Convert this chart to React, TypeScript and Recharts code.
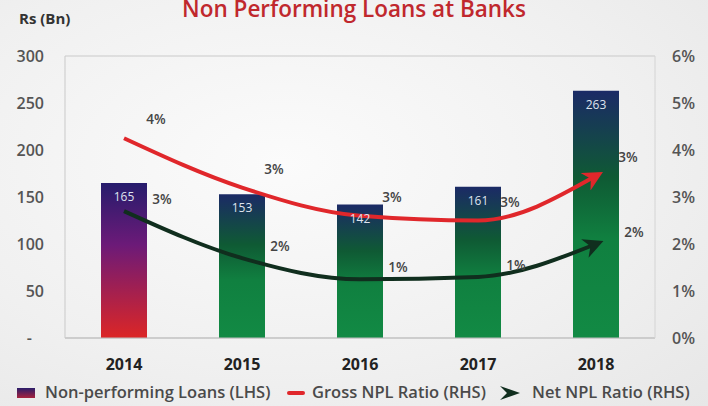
import React from "react";
import {
  ComposedChart,
  Bar,
  Line,
  Cell,
  XAxis,
  YAxis,
  CartesianGrid,
  LabelList,
} from "recharts";

const years = ["2014", "2015", "2016", "2017", "2018"];
const npl = [165, 153, 142, 161, 263];
const grossRatio = [4.25, 3.2, 2.6, 2.5, 3.45];
const netRatio = [2.7, 1.7, 1.25, 1.3, 2.0];
const leftTicks = [0, 50, 100, 150, 200, 250, 300];
const rightTicks = [0, 1, 2, 3, 4, 5, 6];

const data = years.map((year, i) => ({
  year,
  npl: npl[i],
  gross: grossRatio[i],
  net: netRatio[i],
}));

const FONT = "'Open Sans', 'Noto Sans', sans-serif";

const makePctLabel = (dx: number, dy: number) => (props: any) => {
  const { x, y, value } = props;
  if (x == null || y == null) return null;
  return (
    <text
      x={x + dx}
      y={y + dy}
      fill="#444"
      fontSize={13.5}
      fontWeight={600}
      fontFamily={FONT}
      textAnchor="middle"
      dominantBaseline="central"
    >
      {Math.round(value)}%
    </text>
  );
};

function BarTopLabel(props: any) {
  const { x, y, width, value } = props;
  return (
    <text x={x + width / 2} y={y + 18} fill="#dfe3ee" fontSize={12} fontFamily={FONT} textAnchor="middle">
      {value}
    </text>
  );
}

// accounting-style zero shows as a dash
function LeftTick(props: any) {
  const { x, y, payload } = props;
  const zero = payload.value === 0;
  return (
    <text
      x={zero ? x - 12 : x}
      y={y}
      fill="#555"
      fontSize={16}
      fontWeight={600}
      fontFamily={FONT}
      textAnchor="end"
      dominantBaseline="central"
    >
      {zero ? "-" : payload.value}
    </text>
  );
}

const legendText: React.CSSProperties = {
  position: "absolute",
  top: 381,
  fontSize: 16.5,
  fontWeight: 600,
  color: "#4a4a4a",
  whiteSpace: "nowrap",
  lineHeight: "22px",
};

export default function App() {
  return (
    <div
      style={{
        position: "absolute",
        left: 0,
        top: 0,
        width: 708,
        height: 406,
        overflow: "hidden",
        fontFamily: FONT,
        background: "radial-gradient(ellipse at 40% 40%, #fbfbfb 0%, #f0f0f0 60%, #e7e7e7 100%)",
      }}
    >
      <div
        style={{
          position: "absolute",
          left: 0,
          width: 708,
          top: 0,
          textAlign: "center",
          color: "#c0282d",
          fontSize: 22.5,
          fontWeight: 600,
          lineHeight: "18px",
        }}
      >
        Non Performing Loans at Banks
      </div>
      <div style={{ position: "absolute", left: 19, top: 8, fontSize: 15, fontWeight: 700, color: "#333" }}>
        Rs (Bn)
      </div>

      <ComposedChart
        width={708}
        height={406}
        data={data}
        margin={{ top: 56, right: 0, left: 0, bottom: 38 }}
        barCategoryGap={0}
      >
        <defs>
          <linearGradient id="gradRed" x1="0" y1="0" x2="0" y2="1">
            <stop offset="0%" stopColor="#261c6c" />
            <stop offset="40%" stopColor="#6c1a78" />
            <stop offset="100%" stopColor="#dc2626" />
          </linearGradient>
          <linearGradient id="gradGreen" x1="0" y1="0" x2="0" y2="1">
            <stop offset="0%" stopColor="#1b2a66" />
            <stop offset="35%" stopColor="#0f5a34" />
            <stop offset="60%" stopColor="#108040" />
            <stop offset="100%" stopColor="#128a44" />
          </linearGradient>
          <marker id="arrowRed" viewBox="0 0 10 10" refX="6" refY="5" markerWidth="5" markerHeight="5" orient="auto">
            <path d="M0,0 L10,5 L0,10 L3,5 z" fill="#e0272b" />
          </marker>
          <marker id="arrowGreen" viewBox="0 0 10 10" refX="6" refY="5" markerWidth="5" markerHeight="5" orient="auto">
            <path d="M0,0 L10,5 L0,10 L3,5 z" fill="#102e1e" />
          </marker>
        </defs>
        <CartesianGrid vertical={false} stroke="#c9c9c9" strokeWidth={1.2} />
        <XAxis
          dataKey="year"
          height={30}
          axisLine={{ stroke: "#bdbdbd" }}
          tickLine={false}
          tickMargin={15}
          tick={{ fill: "#222", fontSize: 16, fontWeight: 700, fontFamily: FONT }}
        />
        <YAxis
          yAxisId="left"
          width={65}
          domain={[0, 300]}
          ticks={leftTicks}
          axisLine={{ stroke: "#c9c9c9" }}
          tickLine={false}
          tickSize={0}
          tickMargin={21}
          tick={LeftTick}
        />
        <YAxis
          yAxisId="right"
          orientation="right"
          width={53}
          domain={[0, 6]}
          ticks={rightTicks}
          tickFormatter={(v) => `${v}%`}
          axisLine={{ stroke: "#d4d4d4" }}
          tickLine={false}
          tickSize={0}
          tickMargin={17}
          tick={{ fill: "#555", fontSize: 16, fontWeight: 600, fontFamily: FONT, textAnchor: "start" }}
        />
        <Bar yAxisId="left" dataKey="npl" barSize={46} isAnimationActive={false}>
          {data.map((d, i) => (
            <Cell key={d.year} fill={i === 0 ? "url(#gradRed)" : "url(#gradGreen)"} />
          ))}
          <LabelList dataKey="npl" content={BarTopLabel} />
        </Bar>
        <Line
          yAxisId="right"
          type="monotone"
          dataKey="gross"
          stroke="#e0272b"
          strokeWidth={4}
          dot={false}
          markerEnd="url(#arrowRed)"
          isAnimationActive={false}
        >
          <LabelList dataKey="gross" content={makePctLabel(32, -19)} />
        </Line>
        <Line
          yAxisId="right"
          type="monotone"
          dataKey="net"
          stroke="#102e1e"
          strokeWidth={4}
          dot={false}
          markerEnd="url(#arrowGreen)"
          isAnimationActive={false}
        >
          <LabelList dataKey="net" content={makePctLabel(38, -12)} />
        </Line>
      </ComposedChart>

      {/* legend */}
      <div
        style={{
          position: "absolute",
          left: 17,
          top: 388,
          width: 18,
          height: 10,
          background: "linear-gradient(#2a1d6a, #a8233e)",
        }}
      />
      <div style={{ ...legendText, left: 45 }}>Non-performing Loans (LHS)</div>
      <div
        style={{ position: "absolute", left: 287, top: 391, width: 18, height: 4, background: "#e0272b", borderRadius: 2 }}
      />
      <div style={{ ...legendText, left: 312 }}>Gross NPL Ratio (RHS)</div>
      <svg width={22} height={16} style={{ position: "absolute", left: 499, top: 385 }}>
        <path d="M1,1 L21,8 L1,15 L8,8 z" fill="#102e1e" />
      </svg>
      <div style={{ ...legendText, left: 532 }}>Net NPL Ratio (RHS)</div>
    </div>
  );
}
